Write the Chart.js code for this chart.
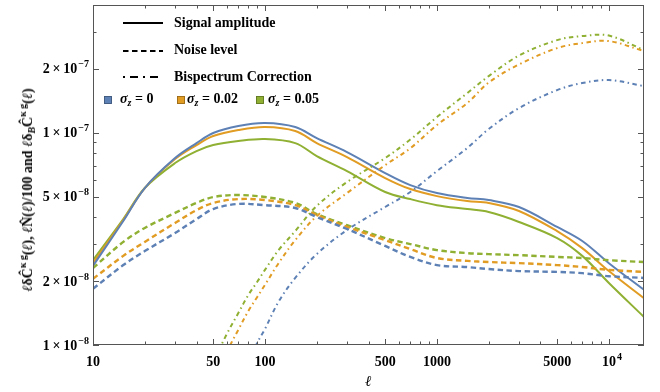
<!DOCTYPE html>
<html><head><meta charset="utf-8">
<script src="https://cdn.jsdelivr.net/npm/chart.js@4.4.1/dist/chart.umd.min.js"></script>
<style>
html,body{margin:0;padding:0;background:#fff;}
#wrap{position:relative;width:660px;height:392px;overflow:hidden;}
canvas{position:absolute;left:0;top:0;}
.t{position:absolute;font-family:"Liberation Serif","Times New Roman",serif;font-weight:bold;color:#000;white-space:nowrap;line-height:16px;}
.t sup,.t sub{font-size:10px;line-height:0;}
.t sup{vertical-align:6px;}
.t sub{vertical-align:-3px;}
</style></head><body>
<div id="wrap">
<canvas id="c" width="660" height="392"></canvas>
<div class="t" id="yt" style="font-size:14px;left:28px;top:190px;transform:translate(-50%,-50%) rotate(-90deg);"><i>ℓ</i>δĈ<sup>κ g</sup>(<i>ℓ</i>), <i>ℓ</i>N̂(<i>ℓ</i>)/100 and <i>ℓ</i>δ<sub><i>B</i></sub>Ĉ<sup>κ g</sup>(<i>ℓ</i>)</div>
<div class="t" style="font-size:14px;left:174px;top:15px;">Signal amplitude</div>
<div class="t" style="font-size:14px;left:174px;top:42px;">Noise level</div>
<div class="t" style="font-size:14px;left:174px;top:69px;">Bispectrum Correction</div>
<div class="t" style="font-size:14px;left:120px;top:91px;"><i>σ</i><sub><i>z</i></sub>&nbsp;= 0</div>
<div class="t" style="font-size:14px;left:187px;top:91px;"><i>σ</i><sub><i>z</i></sub>&nbsp;= 0.02</div>
<div class="t" style="font-size:14px;left:268px;top:91px;"><i>σ</i><sub><i>z</i></sub>&nbsp;= 0.05</div>
</div>
<script>
// ---- data ----
const ell = [10,15,20,30,40,50,70,100,150,200,300,500,700,1000,1500,2000,3000,5000,7000,10000,16000];
const signalS0   = [2.36e-8,3.84e-8,5.49e-8,7.60e-8,8.94e-8,9.97e-8,1.076e-7,1.111e-7,1.064e-7,9.44e-8,8.11e-8,6.46e-8,5.67e-8,5.20e-8,4.93e-8,4.82e-8,4.47e-8,3.60e-8,3.09e-8,2.43e-8,1.82e-8];
const signalS002 = [2.43e-8,3.88e-8,5.49e-8,7.52e-8,8.75e-8,9.65e-8,1.030e-7,1.064e-7,1.019e-7,8.94e-8,7.68e-8,6.12e-8,5.43e-8,5.03e-8,4.77e-8,4.67e-8,4.28e-8,3.44e-8,2.86e-8,2.23e-8,1.66e-8];
const signalS005 = [2.51e-8,3.92e-8,5.49e-8,7.20e-8,8.20e-8,8.75e-8,9.14e-8,9.34e-8,8.94e-8,7.77e-8,6.60e-8,5.26e-8,4.87e-8,4.56e-8,4.37e-8,4.23e-8,3.80e-8,3.19e-8,2.63e-8,1.96e-8,1.355e-8];
const noiseS0    = [1.84e-8,2.38e-8,2.77e-8,3.37e-8,3.92e-8,4.37e-8,4.62e-8,4.56e-8,4.42e-8,4.01e-8,3.52e-8,2.93e-8,2.60e-8,2.38e-8,2.33e-8,2.28e-8,2.23e-8,2.21e-8,2.18e-8,2.11e-8,2.07e-8];
const noiseS002  = [2.05e-8,2.63e-8,3.06e-8,3.76e-8,4.32e-8,4.67e-8,4.87e-8,4.82e-8,4.56e-8,4.10e-8,3.60e-8,3.12e-8,2.83e-8,2.57e-8,2.49e-8,2.46e-8,2.43e-8,2.38e-8,2.33e-8,2.26e-8,2.21e-8];
const noiseS005  = [2.305e-8,3.06e-8,3.56e-8,4.19e-8,4.67e-8,4.98e-8,5.09e-8,4.98e-8,4.67e-8,4.14e-8,3.67e-8,3.19e-8,2.99e-8,2.80e-8,2.71e-8,2.68e-8,2.65e-8,2.60e-8,2.57e-8,2.51e-8,2.46e-8];
const ellBis = [50,60,70,80,90,100,120,150,200,300,500,700,1000,1500,2000,3000,5000,7000,10000,16000];
const bispS0   = [0.35e-8,0.50e-8,0.65e-8,0.80e-8,1.02e-8,1.19e-8,1.60e-8,2.07e-8,2.68e-8,3.48e-8,4.47e-8,5.26e-8,6.60e-8,8.47e-8,1.041e-7,1.307e-7,1.589e-7,1.715e-7,1.771e-7,1.660e-7];
const bispS002 = [0.68e-8,0.93e-8,1.18e-8,1.445e-8,1.68e-8,1.92e-8,2.43e-8,3.12e-8,4.05e-8,5.20e-8,7.04e-8,8.45e-8,1.087e-7,1.380e-7,1.724e-7,2.099e-7,2.506e-7,2.645e-7,2.704e-7,2.426e-7];
const bispS005 = [0.83e-8,1.127e-8,1.415e-8,1.72e-8,1.98e-8,2.26e-8,2.80e-8,3.44e-8,4.52e-8,5.86e-8,7.60e-8,9.29e-8,1.186e-7,1.538e-7,1.849e-7,2.310e-7,2.733e-7,2.855e-7,2.870e-7,2.452e-7];

const xMajorTicks = [10,50,100,500,1000,5000,10000];
const xTickLabels = ['10','50','100','500','1000','5000','10^4'];
const xMinorTicks = [20,30,40,60,70,80,90,200,300,400,600,700,800,900,2000,3000,4000,6000,7000,8000,9000];
const yMajorTicks = [1e-8,2e-8,5e-8,1e-7,2e-7];
const yTickLabels = ['1\u2009×\u200910^−8','2\u2009×\u200910^−8','5\u2009×\u200910^−8','1\u2009×\u200910^−7','2\u2009×\u200910^−7'];
const yMinorTicks = [3e-8,4e-8,6e-8,7e-8,8e-8,9e-8,3e-7,4e-7];

const seriesNames = ['σz = 0','σz = 0.02','σz = 0.05'];
const colors = ['#5E81B5','#E19C24','#8FB032'];

// ---- build ----
const pts = (xs, ys) => xs.map((x,i)=>({x:x, y:ys[i]}));
const findIdx = (arr,v) => arr.findIndex(m => Math.abs(v/m-1) < 1e-6);
const FONT = '"Liberation Serif","Times New Roman",serif';

function ds(label, xs, ys, color, dash, w){
  return {label, data: pts(xs,ys), borderColor: color, backgroundColor: color, borderWidth: w,
    borderDash: dash, borderCapStyle:'butt', pointRadius:0, fill:false, tension:0.35};
}
const sig = [signalS0,signalS002,signalS005];
const noi = [noiseS0,noiseS002,noiseS005];
const bis = [bispS0,bispS002,bispS005];
const datasets = [];
for (let i=0;i<3;i++) datasets.push(ds('Bispectrum '+seriesNames[i], ellBis, bis[i], colors[i], [4.5,3.5,1.5,3.5], 2));
for (let i=0;i<3;i++) datasets.push(ds('Noise '+seriesNames[i], ell, noi[i], colors[i], [5.5,3.5], 2.4));
for (let i=0;i<3;i++) datasets.push(ds('Signal '+seriesNames[i], ell, sig[i], colors[i], [], 2));

function drawSupLabel(ctx, text, x, y, align){
  const parts = text.split('^');
  const fb = 'bold 14px ' + FONT, fs = 'bold 10px ' + FONT;
  ctx.font = fb;
  const wb = ctx.measureText(parts[0]).width;
  let ws = 0;
  if (parts[1]) { ctx.font = fs; ws = ctx.measureText(parts[1]).width + 1; }
  let x0 = align === 'right' ? x - wb - ws : x - wb/2;
  ctx.textAlign = 'left'; ctx.textBaseline = 'alphabetic';
  ctx.font = fb;
  ctx.fillText(parts[0], x0, y);
  if (parts[1]) { ctx.font = fs; ctx.fillText(parts[1], x0 + wb + 1, y - 6); }
}

const framePlugin = {
  id:'frameTicks',
  afterDatasetsDraw(chart){
    const {ctx, chartArea:a, scales:{x,y}} = chart;
    ctx.save();
    ctx.strokeStyle = '#555'; ctx.lineWidth = 1; ctx.setLineDash([]);
    ctx.strokeRect(Math.round(a.left)+0.5, Math.round(a.top)+0.5, Math.round(a.right-a.left)-1, Math.round(a.bottom-a.top)-1);
    ctx.beginPath();
    x.ticks.forEach(t=>{
      const px = Math.round(x.getPixelForValue(t.value))+0.5;
      const L = findIdx(xMajorTicks,t.value)>=0 ? 6 : 3.5;
      ctx.moveTo(px,a.bottom); ctx.lineTo(px,a.bottom-L);
      ctx.moveTo(px,a.top); ctx.lineTo(px,a.top+L);
    });
    y.ticks.forEach(t=>{
      const py = Math.round(y.getPixelForValue(t.value))+0.5;
      const L = findIdx(yMajorTicks,t.value)>=0 ? 6 : 3.5;
      ctx.moveTo(a.left,py); ctx.lineTo(a.left+L,py);
      ctx.moveTo(a.right,py); ctx.lineTo(a.right-L,py);
    });
    ctx.stroke();
    // tick labels
    ctx.fillStyle = '#000';
    xMajorTicks.forEach((v,i)=>{ drawSupLabel(ctx, xTickLabels[i], x.getPixelForValue(v), a.bottom + 21, 'center'); });
    yMajorTicks.forEach((v,i)=>{ drawSupLabel(ctx, yTickLabels[i], a.left - 4, y.getPixelForValue(v) + 4.5, 'right'); });
    ctx.restore();
  }
};
const legendPlugin = {
  id:'legendSamples',
  afterDraw(chart){
    const ctx = chart.ctx;
    ctx.save();
    ctx.strokeStyle = '#000'; ctx.lineWidth = 1.8;
    const rows = [[23,[]],[51,[5.5,3.5]],[77,[2,5,8,5]]];
    rows.forEach(([yy,d])=>{ ctx.setLineDash(d); ctx.beginPath(); ctx.moveTo(123,yy); ctx.lineTo(163,yy); ctx.stroke(); });
    ctx.setLineDash([]);
    [104,177,256].forEach((xx,i)=>{
      ctx.fillStyle = colors[i]; ctx.fillRect(xx,96,8,8);
      ctx.strokeStyle = 'rgba(0,0,0,0.35)'; ctx.lineWidth=0.8; ctx.strokeRect(xx+0.5,96.5,7,7);
    });
    ctx.restore();
  }
};

new Chart(document.getElementById('c'), {
  type:'line',
  data:{datasets},
  plugins:[framePlugin, legendPlugin],
  options:{
    responsive:false, animation:false, devicePixelRatio:1,
    layout:{padding:{left:0,right:16,top:5,bottom:0}},
    plugins:{legend:{display:false}, tooltip:{enabled:false}},
    scales:{
      x:{type:'logarithmic', min:10, max:16000,
        afterBuildTicks(s){ s.ticks = xMajorTicks.concat(xMinorTicks).sort((a,b)=>a-b).map(v=>({value:v})); },
        afterFit(s){ s.height = 47; s.paddingLeft=0; s.paddingRight=0; },
        grid:{display:false, drawTicks:false}, border:{display:false},
        ticks:{display:false, autoSkip:false, maxRotation:0},
        title:{display:true, text:'ℓ', color:'#000', padding:{top:0,bottom:1},
          font:{family:FONT, size:15, style:'italic', weight:'bold'}}
      },
      y:{type:'logarithmic', min:1e-8, max:4e-7,
        afterBuildTicks(s){ s.ticks = yMajorTicks.concat(yMinorTicks).sort((a,b)=>a-b).map(v=>({value:v})); },
        afterFit(s){ s.width = 93; s.paddingTop=0; s.paddingBottom=0; },
        grid:{display:false, drawTicks:false}, border:{display:false},
        ticks:{display:false, autoSkip:false}
      }
    }
  }
});
</script>
</body></html>
